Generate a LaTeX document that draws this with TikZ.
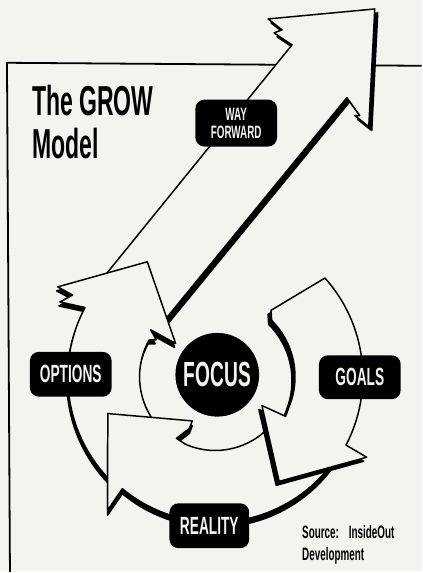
\documentclass[tikz,border=0pt]{standalone}
\usepackage{fontspec}
\newfontfamily\growfont[FakeStretch=0.55]{Liberation Sans}
\definecolor{paper}{RGB}{244,244,238}

\newcommand{\rOut}{148}

\newcommand{\wayArrow}[1]
{   \filldraw[#1] (-116,95) -- (77,333) -- (59,345) -- (67,348) -- (53,359) -- (160,369)
      -- (154,251) -- (140,262) -- (145,262) -- (132,280) -- (-58,48) -- cycle;
}
\newcommand{\goalsArrow}[1]
{   \filldraw[#1] (45:80) -- (50:87) -- (42:\rOut) arc (42:-27.6:\rOut pt) -- (-28:172)
      -- (-58.6:123) -- (-31.7:55) -- (-29.4:81) -- (-17.6:80) arc (-17.6:45:80pt) -- cycle;
}
\newcommand{\realityArrow}[1]
{   \filldraw[#1] (-30:146) arc (-30:-129.7:146pt) -- (-128.9:172) -- (-161.1:114)
      -- (-117.6:50) -- (-116.6:58) -- (-122.2:73) -- (-114:74) arc (-114:-40:74pt) -- cycle;
}
\newcommand{\optionsArrow}[1]
{   \filldraw[#1] (216:76) -- (226:\rOut) arc (226:152:\rOut pt) -- (154.3:173) -- (150.2:165)
      -- (150.3:182) -- (120.6:134) -- (140:52) -- (144:80) -- (148:70) -- (151:76)
      arc (151:216:76pt) -- cycle;
}

\tikzset{
  stage/.style={fill=black, text=paper, rounded corners=9pt, inner sep=0pt,
    minimum width=82pt, minimum height=44pt,
    font=\growfont\bfseries\fontsize{25}{25}\selectfont},
  hub/.style={circle, fill=black, text=paper, inner sep=0pt, minimum size=84pt,
    font=\growfont\bfseries\fontsize{35}{35}\selectfont},
  shadow/.style={fill=black, draw=black, line width=1.5pt},
  outline/.style={fill=paper, draw=black, line width=1.5pt}
}

\begin{document}
\begin{tikzpicture}[x=1pt,y=1pt,line join=round]

 \fill[paper] (-216,-195) rectangle (207,378);
 \draw[line width=1.8pt] (-206,-196) -- (-209,315) -- (207,312);

 \wayArrow{shadow, shift={(3,-4)}}     \wayArrow{outline}
 \optionsArrow{shadow, shift={(-1,-4)}} \optionsArrow{outline}
 \realityArrow{shadow, shift={(0,-5)}} \realityArrow{outline}
 \goalsArrow{shadow, shift={(-3,-4)}}  \goalsArrow{outline}

 \node[anchor=north west, inner sep=0pt, align=left,
   font=\growfont\bfseries\fontsize{42}{43}\selectfont] (title) at (-184,293) {The GROW\\Model};
 \node[stage, minimum height=47pt, align=center,
   font=\growfont\bfseries\fontsize{18}{18}\selectfont] (way) at (21,254.5) {WAY\\FORWARD};
 \node[hub] (focus) at (2,2) {FOCUS};
 \node[stage] (goals) at (145,-0.5) {GOALS};
 \node[stage, minimum height=45pt] (options) at (-145,2.5) {OPTIONS};
 \node[stage, minimum width=80pt, minimum height=45pt] (reality) at (-6,-149.5) {REALITY};
 \node[anchor=north west, inner sep=0pt, align=left,
   font=\growfont\bfseries\fontsize{18}{22}\selectfont] (source) at (87,-149)
   {Source:\hspace{10pt}InsideOut\\Development};

\end{tikzpicture}
\end{document}
